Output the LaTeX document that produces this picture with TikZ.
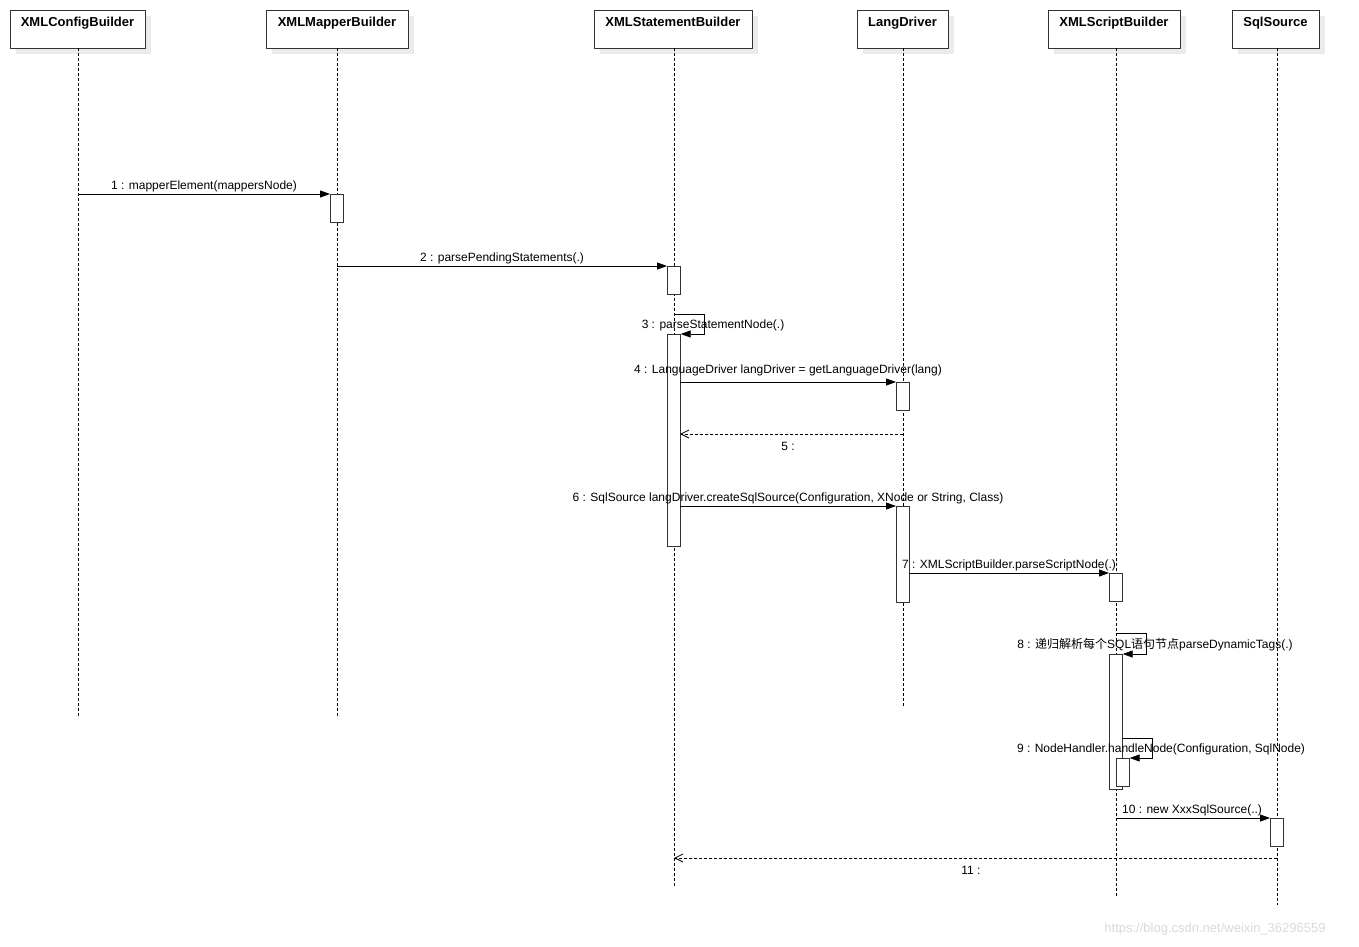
\documentclass[tikz,border=0pt]{standalone}
\usepackage{fontspec}
\setmainfont{Liberation Sans}
\newfontfamily\cjk{Noto Sans CJK SC}
\usetikzlibrary{arrows.meta}
\begin{document}
\begin{tikzpicture}[x=1pt,y=-1pt,
  hdr/.style={draw=black!80,fill=white,line width=0.9pt,minimum height=38pt,anchor=north west,inner sep=0pt,font=\fontsize{13}{15}\selectfont\bfseries},
  life/.style={dash pattern=on 3pt off 2pt,line width=0.6pt},
  act/.style={draw=black!80,fill=white,line width=0.7pt,minimum width=13pt,inner sep=0pt,anchor=north west},
  msg/.style={line width=0.8pt,-{Triangle[length=10pt,width=7pt]}},
  ret/.style={line width=0.8pt,dash pattern=on 3pt off 2pt,-{Straight Barb[length=8pt,width=8pt]}},
  lbl/.style={font=\fontsize{12}{14}\selectfont,inner sep=0pt}]
\useasboundingbox (0,0) rectangle (1359,946);
% shadows
\foreach \a/\b in {10/145,266/408,594/752,857/948,1048/1180,1232/1319}
  \fill[black!8] (\a+6,16) rectangle (\b+6,54);
% headers
\node[hdr,minimum width=135pt] (h1) at (10,10) {};
\node[anchor=north,font=\fontsize{13}{15}\selectfont\bfseries] at (77.5,14) {XMLConfigBuilder};
\node[hdr,minimum width=142pt] (h2) at (266,10) {};
\node[anchor=north,font=\fontsize{13}{15}\selectfont\bfseries] at (337,14) {XMLMapperBuilder};
\node[hdr,minimum width=158pt] (h3) at (594,10) {};
\node[anchor=north,font=\fontsize{13}{15}\selectfont\bfseries] at (673,14) {XMLStatementBuilder};
\node[hdr,minimum width=91pt] (h4) at (857,10) {};
\node[anchor=north,font=\fontsize{13}{15}\selectfont\bfseries] at (902.5,14) {LangDriver};
\node[hdr,minimum width=132pt] (h5) at (1048,10) {};
\node[anchor=north,font=\fontsize{13}{15}\selectfont\bfseries] at (1114,14) {XMLScriptBuilder};
\node[hdr,minimum width=87pt] (h6) at (1232,10) {};
\node[anchor=north,font=\fontsize{13}{15}\selectfont\bfseries] at (1275.5,14) {SqlSource};
% lifelines
\coordinate (e1) at (78,718); \coordinate (e2) at (337,718); \coordinate (e3) at (674,886);
\coordinate (e4) at (903,706); \coordinate (e5) at (1116,897); \coordinate (e6) at (1277,905);
\draw[life] (78,48) -- (e1);
\draw[life] (337,48) -- (e2);
\draw[life] (674,48) -- (e3);
\draw[life] (903,48) -- (e4);
\draw[life] (1116,48) -- (e5);
\draw[life] (1277,48) -- (e6);
% activations
\node[act,minimum height=28pt] (a1) at (330,194) {};
\node[act,minimum height=28pt] (a2) at (667,266) {};
\node[act,minimum height=212pt] (a3) at (667,334) {};
\node[act,minimum height=28pt] (a4) at (896,382) {};
\node[act,minimum height=96pt] (a6) at (896,506) {};
\node[act,minimum height=28pt] (a7) at (1109,573) {};
\node[act,minimum height=135pt] (a8) at (1109,654) {};
\node[act,minimum height=28pt] (a9) at (1116,758) {};
\node[act,minimum height=28pt] (a10) at (1270,818) {};
% messages
\coordinate (s1) at (78,194); \draw[msg] (s1) -- (a1.north west);
\node[lbl] at (204,186) {1 : mapperElement(mappersNode)};
\coordinate (s2) at (337,266); \draw[msg] (s2) -- (a2.north west);
\node[lbl] at (502,258) {2 : parsePendingStatements(.)};
\coordinate (s3) at (674,314);
\draw[msg] (s3) -- (704,314) -- (704,334) -- (a3.north east);
\node[lbl] at (713,325) {3 : parseStatementNode(.)};
\draw[msg] (680,382) -- (a4.north west);
\node[lbl] at (788,370) {4 : LanguageDriver langDriver = getLanguageDriver(lang)};
\coordinate (s5) at (903,434); \draw[ret] (s5) -- (680,434);
\node[lbl] at (788,446) {5 :};
\draw[msg] (680,506) -- (a6.north west);
\node[lbl] at (788,498) {6 : SqlSource langDriver.createSqlSource(Configuration, XNode or String, Class)};
\draw[msg] (909,573) -- (a7.north west);
\node[lbl] at (1009,565) {7 : XMLScriptBuilder.parseScriptNode(.)};
\coordinate (s8) at (1116,633);
\draw[msg] (s8) -- (1146,633) -- (1146,654) -- (a8.north east);
\node[lbl] at (1155,645) {8 : {\cjk 递归解析每个}SQL{\cjk 语句节点}parseDynamicTags(.)};
\draw[msg] (1122,738) -- (1152,738) -- (1152,758) -- (a9.north east);
\node[lbl] at (1161,749) {9 : NodeHandler.handleNode(Configuration, SqlNode)};
\coordinate (s10) at (1116,818); \draw[msg] (s10) -- (a10.north west);
\node[lbl] at (1192,810) {10 : new XxxSqlSource(..)};
\coordinate (s11) at (1277,858); \draw[ret] (s11) -- (674,858);
\node[lbl] at (971,870) {11 :};
\node[font=\fontsize{13}{15}\selectfont,text=black!15,inner sep=0pt] at (1215,929) {https://blog.csdn.net/weixin\_36296559};
\end{tikzpicture}
\end{document}
